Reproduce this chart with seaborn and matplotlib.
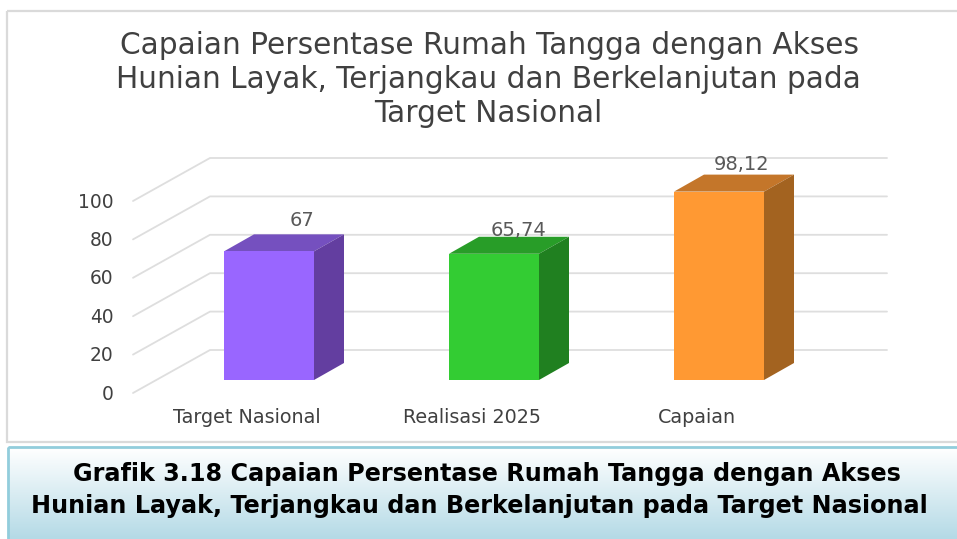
import numpy as np
import matplotlib
matplotlib.use("Agg")
import matplotlib.pyplot as plt
from matplotlib.lines import Line2D
from matplotlib.patches import Polygon, Rectangle
from matplotlib.transforms import IdentityTransform, ScaledTranslation
import seaborn as sns

categories = ["Target Nasional", "Realisasi 2025", "Capaian"]
values = [67, 65.74, 98.12]
value_labels = ["67", "65,74", "98,12"]
y_ticks = [0, 20, 40, 60, 80, 100]
title_lines = ["Capaian Persentase Rumah Tangga dengan Akses",
               "Hunian Layak, Terjangkau dan Berkelanjutan pada",
               "Target Nasional"]
caption_lines = ["Grafik 3.18 Capaian Persentase Rumah Tangga dengan Akses",
                 "Hunian Layak, Terjangkau dan Berkelanjutan pada Target Nasional"]
front_colors = ["#9966FF", "#33CC33", "#FF9933"]
top_colors = ["#7550BF", "#289D28", "#C4762A"]
side_colors = ["#633EA0", "#208020", "#A36320"]

W, H, DPI = 957, 539, 100
sns.set_theme(style="white")
plt.rcParams["font.family"] = ["DejaVu Sans"]
fig = plt.figure(figsize=(W / DPI, H / DPI), dpi=DPI, facecolor="white")


def fx(px):
    return px / W


def fy(py):
    return 1 - py / H


# Background layer: frame, caption box, title, caption
bg = fig.add_axes([0, 0, 1, 1], zorder=0)
bg.set_xlim(0, W)
bg.set_ylim(H, 0)
bg.axis("off")
bg.add_patch(Rectangle((7, 11), W, 431, fill=False, ec="#DADADA", lw=1.6))
grad = np.linspace(0, 1, 256).reshape(-1, 1)
cmap = matplotlib.colors.LinearSegmentedColormap.from_list("g", ["#FFFFFF", "#B4DAE6"])
bg.imshow(grad, extent=(9, W, H, 448), aspect="auto", cmap=cmap, zorder=1)
bg.set_xlim(0, W)
bg.set_ylim(H, 0)
bg.add_patch(Rectangle((8, 447), W, 100, fill=False, ec="#92CDDC", lw=2, zorder=2))
for text, cx, cy in zip(title_lines, [489, 488, 488], [45, 79, 113]):
    bg.text(cx, cy, text, ha="center", va="center", fontsize=21.3, color="#404040")
for text, cx, cy in zip(caption_lines, [487, 479], [474, 506]):
    bg.text(cx, cy, text, ha="center", va="center", fontsize=17.2,
            fontweight="bold", color="#000000", zorder=3)

# Chart axes: front plane of the bars
ax = fig.add_axes([fx(156.5), fy(380), fx(675), 192 / H], zorder=1)
ax.patch.set_alpha(0)
sns.barplot(x=categories, y=values, hue=categories, palette=front_colors,
            width=0.4, saturation=1, legend=False, ax=ax, zorder=3,
            edgecolor="none", linewidth=0)
ax.set_xlim(-0.5, 2.5)
ax.set_ylim(0, 100)
ax.set_yticks(y_ticks)
sns.despine(ax=ax, left=True, bottom=True)
ax.set_xlabel("")
ax.set_ylabel("")
ax.tick_params(axis="both", length=0)
ax.tick_params(axis="y", pad=31, labelsize=13.4, labelcolor="#404040")
ax.tick_params(axis="x", pad=20, labelsize=13.8, labelcolor="#404040")

# Tick labels sit on the front edge of the 3-D floor, not on the bar plane
ty = ScaledTranslation(0, -12 / DPI, fig.dpi_scale_trans)
for lab in ax.get_yticklabels():
    lab.set_transform(lab.get_transform() + ty)
tx = ScaledTranslation(-22.5 / DPI, 0, fig.dpi_scale_trans)
for lab in ax.get_xticklabels():
    lab.set_transform(lab.get_transform() + tx)

identity = IdentityTransform()
to_px = ax.transData.transform

# Wall grid lines, from the tick positions
depth_x, depth_y = 30, 17
for v in y_ticks:
    _, yd = to_px((0, v))
    ax.add_line(Line2D([133, 210, 887], [yd - 13, yd + 30, yd + 30], transform=identity,
                       color="#DEDEDE", lw=1.3, clip_on=False, zorder=1))

# Extrude each bar to the back
bars = [p for p in ax.patches if p.get_height() > 0]
bars.sort(key=lambda p: p.get_x())
lab_dx = [33, 24, 23]
lab_dy = [31, 23, 27]
for bar, top, side, label, dx, dy in zip(bars, top_colors, side_colors, value_labels, lab_dx, lab_dy):
    x0, y1 = to_px((bar.get_x(), bar.get_height()))
    x1, y0 = to_px((bar.get_x() + bar.get_width(), 0))
    ax.add_patch(Polygon([(x0, y1), (x1, y1), (x1 + depth_x, y1 + depth_y), (x0 + depth_x, y1 + depth_y)],
                         closed=True, fc=top, ec="none", transform=identity, clip_on=False, zorder=2))
    ax.add_patch(Polygon([(x1, y0), (x1, y1), (x1 + depth_x, y1 + depth_y), (x1 + depth_x, y0 + depth_y)],
                         closed=True, fc=side, ec="none", transform=identity, clip_on=False, zorder=2))
    ax.text((x0 + x1) / 2 + dx, y1 + dy, label, transform=identity, ha="center", va="center",
            fontsize=14, color="#595959", zorder=5, clip_on=False)

fig.savefig("out.png", dpi=DPI)
